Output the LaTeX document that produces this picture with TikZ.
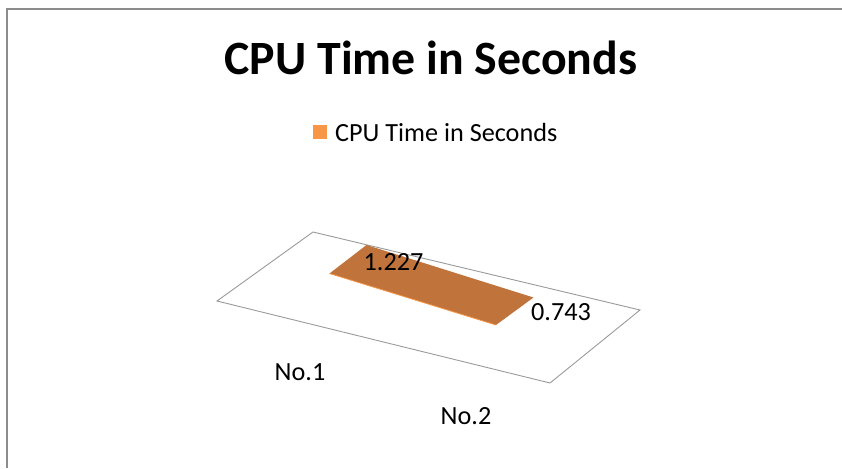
\documentclass[tikz,border=0pt]{standalone}
\usepackage{fontspec}
\setmainfont{Carlito}
\definecolor{framegray}{HTML}{8C8C8C}
\definecolor{floorgray}{HTML}{9A9A9A}
\definecolor{barface}{HTML}{C0733A}
\definecolor{baredge}{HTML}{F79646}
\begin{document}
\begin{tikzpicture}[x=1pt,y=-1pt,
  titletext/.style={font=\fontsize{47.8}{56}\selectfont\bfseries, inner sep=0pt},
  plaintext/.style={font=\fontsize{26.2}{31}\selectfont, inner sep=0pt},
  floorline/.style={draw=floorgray, line width=0.9pt},
]
\useasboundingbox (0,0) rectangle (842,468);
% chart frame (only top and left edges lie inside the page)
\fill[framegray] (6,8) rectangle (842,10);
\fill[framegray] (6,8) rectangle (8,468);

% title and legend
\node[titletext] (title) at (431,58) {CPU Time in Seconds};
\node[fill=baredge, minimum size=14pt, inner sep=0pt] (key) at (320,132) {};
\node[plaintext, anchor=west] (keytext) at (335,132) {CPU Time in Seconds};

% floor of the 3-D plot area
\coordinate (f1) at (313,232);
\coordinate (f2) at (640,310);
\coordinate (f3) at (550,383);
\coordinate (f4) at (217,301);
\draw[floorline] (f1) -- (f2) -- (f3) -- (f4) -- cycle;

% flat bar
\coordinate (b1) at (366.5,245);
\coordinate (b2) at (533.5,297.5);
\coordinate (b3) at (496,325);
\coordinate (b4) at (329.5,273.5);
\fill[barface] (b1) -- (b2) -- (b3) -- (b4) -- cycle;
\draw[baredge, line width=0.8pt] (b4) -- (b3);

% data labels and categories
\node[plaintext] (v1) at (393.5,262) {1.227};
\node[plaintext] (v2) at (561,312.5) {0.743};
\node[plaintext] (c1) at (300,372) {No.1};
\node[plaintext] (c2) at (466,416) {No.2};
\end{tikzpicture}
\end{document}
